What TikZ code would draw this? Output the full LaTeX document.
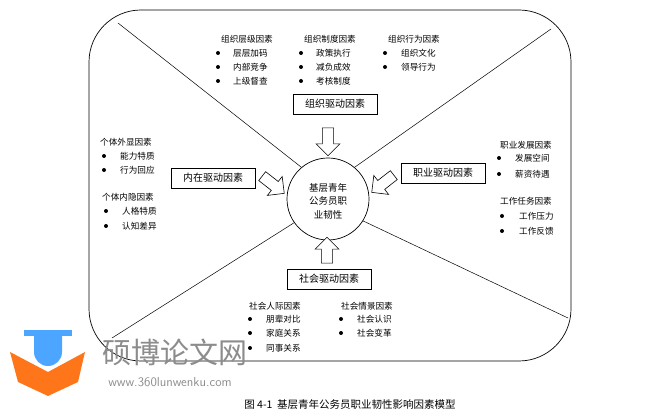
\documentclass[tikz,border=0pt]{standalone}
\usepackage{fontspec}
\newfontfamily\cjk{Noto Sans CJK SC}
\usetikzlibrary{shapes.arrows}
\begin{document}
\begin{tikzpicture}[x=1pt,y=-1pt,
  every node/.style={font=\cjk\fontsize{8.6}{10}\selectfont, inner sep=0pt},
  hd/.style={anchor=center},
  it/.style={anchor=west},
  bul/.style={circle, fill=black, minimum size=4pt},
  fbox/.style={draw, line width=0.6pt, minimum width=84pt, minimum height=20pt, font=\cjk\fontsize{10}{11}\selectfont},
  barrow/.style={single arrow, draw, line width=0.6pt, fill=white, minimum width=24pt, minimum height=28pt, single arrow head extend=6pt, inner ysep=5pt, inner xsep=0pt},
  thin/.style={line width=0.5pt}]
\useasboundingbox (0,0) rectangle (665,419);
\draw[thin, rounded corners=52pt, line width=0.7pt] (89,10) rectangle (571,361);
\node[circle, draw, line width=0.7pt, minimum size=82pt] (c) at (328,199) {};
\node[align=center, font=\cjk\fontsize{9.5}{13.5}\selectfont] (ct) at (328,201) {基层青年\\公务员职\\业韧性};
\coordinate (tl) at (118,23); \coordinate (tr) at (551,29);
\coordinate (bl) at (112,338); \coordinate (br) at (568,318);
\draw[thin] (tl) -- (c.130); \draw[thin] (tr) -- (c.50);
\draw[thin] (bl) -- (c.215); \draw[thin] (br) -- (c.-32);
% top
\node[hd] (h1) at (247,39) {组织层级因素};
\node[bul] (b11) at (218,53) {}; \node[it] (t11) at (233,53) {层层加码};
\node[bul] (b12) at (218,67) {}; \node[it] (t12) at (233,67) {内部竞争};
\node[bul] (b13) at (218,81) {}; \node[it] (t13) at (233,81) {上级督查};
\node[hd] (h2) at (330,39) {组织制度因素};
\node[bul] (b21) at (301,53) {}; \node[it] (t21) at (316,53) {政策执行};
\node[bul] (b22) at (301,67) {}; \node[it] (t22) at (316,67) {减负成效};
\node[bul] (b23) at (301,81) {}; \node[it] (t23) at (316,81) {考核制度};
\node[hd] (h3) at (414,39) {组织行为因素};
\node[bul] (b31) at (385,53) {}; \node[it] (t31) at (401,53) {组织文化};
\node[bul] (b32) at (385,67) {}; \node[it] (t32) at (401,67) {领导行为};
\node[fbox] (org) at (335,104) {组织驱动因素};
\node[barrow, rotate=-90] (a1) at (328,139) {};
% left
\node[it] (h4) at (100,142) {个体外显因素};
\node[bul] (b41) at (104,156) {}; \node[it] (t41) at (120,156) {能力特质};
\node[bul] (b42) at (104,170) {}; \node[it] (t42) at (120,170) {行为回应};
\node[it] (h5) at (102,197) {个体内隐因素};
\node[bul] (b51) at (106,211) {}; \node[it] (t51) at (122,211) {人格特质};
\node[bul] (b52) at (106,226) {}; \node[it] (t52) at (122,226) {认知差异};
\node[fbox] (inn) at (213,178) {内在驱动因素};
\node[barrow, rotate=-38] (a2) at (271,183) {};
% right
\node[hd] (h6) at (526,145) {职业发展因素};
\node[bul] (b61) at (499,158) {}; \node[it] (t61) at (515,158) {发展空间};
\node[bul] (b62) at (499,174) {}; \node[it] (t62) at (515,174) {薪资待遇};
\node[hd] (h7) at (526,201) {工作任务因素};
\node[bul] (b71) at (502,216) {}; \node[it] (t71) at (519,216) {工作压力};
\node[bul] (b72) at (502,231) {}; \node[it] (t72) at (519,231) {工作反馈};
\node[fbox] (car) at (443,173) {职业驱动因素};
\node[barrow, rotate=218] (a3) at (385,182) {};
% bottom
\node[barrow, rotate=90, minimum height=26pt] (a4) at (327,253) {};
\node[fbox] (soc) at (329,279) {社会驱动因素};
\node[hd] (h8) at (275,306) {社会人际因素};
\node[bul] (b81) at (250,319) {}; \node[it] (t81) at (266,319) {朋辈对比};
\node[bul] (b82) at (250,333) {}; \node[it] (t82) at (266,333) {家庭关系};
\node[bul] (b83) at (250,348) {}; \node[it] (t83) at (266,348) {同事关系};
\node[hd] (h9) at (367,306) {社会情景因素};
\node[bul] (b91) at (341,319) {}; \node[it] (t91) at (357,319) {社会认识};
\node[bul] (b92) at (341,333) {}; \node[it] (t92) at (357,333) {社会变革};
% watermark
\fill[orange!80!red!90] (10,352) -- (48,372) -- (85,352) -- (78,382) -- (48,396) -- (18,382) -- cycle;
\fill[blue!50!cyan!70] (24,330) rectangle (72,336);
\fill[blue!50!cyan!70] (34,336) -- (62,336) -- (62,352) arc (0:-180:14pt) -- cycle;
\node[font=\cjk\fontsize{29}{30}\selectfont, text=gray!90] (wm) at (175,352) {硕博论文网};
\node[font=\fontsize{13}{14}\selectfont\sffamily, text=gray!90] (url) at (170,382) {www.360lunwenku.com};
\node[font=\cjk\fontsize{10.5}{12}\selectfont] (cap) at (350,405) {图 4-1\ \ 基层青年公务员职业韧性影响因素模型};
\end{tikzpicture}
\end{document}
